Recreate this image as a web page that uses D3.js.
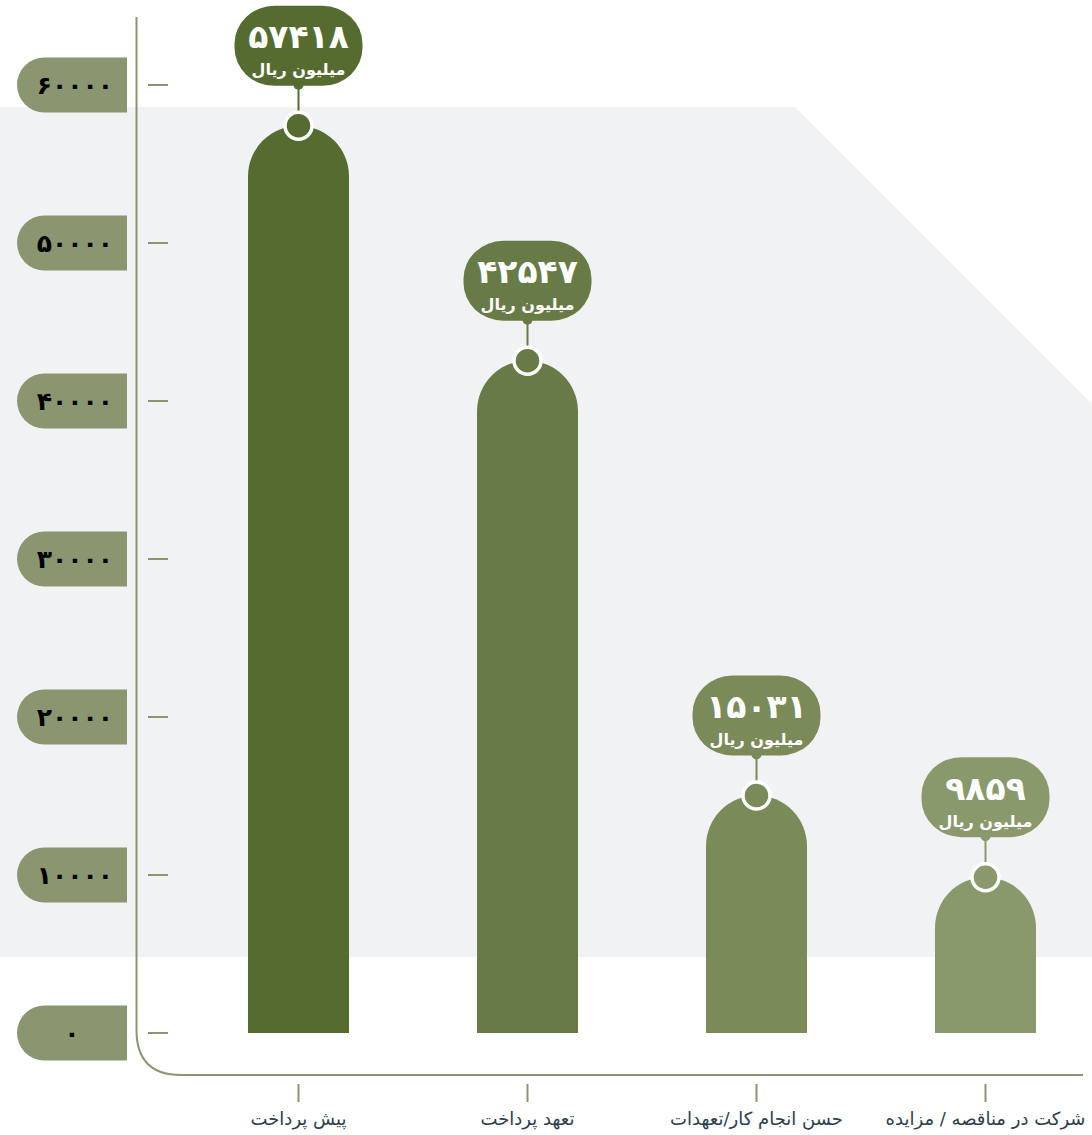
<!DOCTYPE html>
<html><head><meta charset="utf-8">
<script src="https://cdn.jsdelivr.net/npm/d3@7/dist/d3.min.js"></script>
<style>html,body{margin:0;padding:0;background:#fff}svg{display:block}</style>
</head><body><svg id="c" width="1092" height="1135"></svg>
<script>
const categories = ["پیش پرداخت", "تعهد پرداخت", "حسن انجام کار/تعهدات", "شرکت در مناقصه / مزایده"];
const values = [57418, 42547, 15031, 9859];
const barColors = ["#566b30", "#687a46", "#7a8a58", "#8a996c"];
const yTicks = [0, 10000, 20000, 30000, 40000, 50000, 60000];
const unitLabel = "میلیون ریال";

const fa = n => String(n).replace(/\d/g, d => "۰۱۲۳۴۵۶۷۸۹"[+d]);
const svg = d3.select("#c");
const axisColor = "#8a9670";
const FONT = "'DejaVu Sans', sans-serif";

const y = d3.scaleLinear().domain([0, 60000]).range([1033, 85]);
const x = d3.scaleBand().domain(categories).range([184, 1100]).padding(0);
const cx = c => x(c) + x.bandwidth() / 2;

// background panel
svg.append("path").attr("fill", "#f1f2f4")
  .attr("d", "M0,107 L795,107 L1092,404 L1092,957 L0,957 Z");

// y axis line with rounded corner
svg.append("path").attr("fill", "none").attr("stroke", axisColor).attr("stroke-width", 2)
  .attr("d", "M136.5,17 L136.5,1030 Q136.5,1075 181,1075 L1083,1075");

// y tick pills, ticks, labels
const yt = svg.append("g").selectAll("g").data(yTicks).join("g")
  .attr("transform", d => `translate(0,${y(d)})`);
yt.append("path").attr("fill", axisColor)
  .attr("d", "M127,-27.5 L44.5,-27.5 A27.5,27.5 0 0 0 44.5,27.5 L127,27.5 Z");
yt.append("line").attr("x1", 148).attr("x2", 168).attr("stroke", axisColor).attr("stroke-width", 2);
yt.append("text").attr("x", d => d === 0 ? 72 : 113).attr("y", 0).attr("dy", "0.35em")
  .attr("text-anchor", d => d === 0 ? "middle" : "end")
  .attr("font-family", FONT).attr("font-weight", "bold").attr("font-size", 25).attr("fill", "#000")
  .attr("direction", "ltr")
  .text(d => fa(d));

// bars
const bw = 101, r = 50.5;
const bars = svg.append("g").selectAll("g").data(values).join("g");
bars.append("path").attr("fill", (d, i) => barColors[i])
  .attr("d", (d, i) => {
    const c = cx(categories[i]), x0 = c - bw / 2, x1 = c + bw / 2, yt = y(d), yb = y(0);
    return `M${x0},${yb} L${x0},${yt + r} A${bw/2},${r} 0 0 1 ${x1},${yt + r} L${x1},${yb} Z`;
  });
// connector line
bars.append("line").attr("x1", (d, i) => cx(categories[i])).attr("x2", (d, i) => cx(categories[i]))
  .attr("y1", d => y(d) - 40).attr("y2", d => y(d))
  .attr("stroke", (d, i) => barColors[i]).attr("stroke-width", 2);
// marker circle
bars.append("circle").attr("cx", (d, i) => cx(categories[i])).attr("cy", d => y(d)).attr("r", 13.5)
  .attr("fill", (d, i) => barColors[i]).attr("stroke", "#fff").attr("stroke-width", 3.5);
// label pill
bars.append("rect").attr("x", (d, i) => cx(categories[i]) - 64).attr("y", d => y(d) - 120)
  .attr("width", 128).attr("height", 80).attr("rx", 40).attr("ry", 38)
  .attr("fill", (d, i) => barColors[i]);
bars.append("circle").attr("cx", (d, i) => cx(categories[i])).attr("cy", d => y(d) - 41).attr("r", 5)
  .attr("fill", (d, i) => barColors[i]);
bars.append("text").attr("x", (d, i) => cx(categories[i])).attr("y", d => y(d) - 89)
  .attr("dy", "0.35em").attr("text-anchor", "middle").attr("direction", "ltr")
  .attr("font-family", FONT).attr("font-weight", "bold").attr("font-size", 33).attr("fill", "#fff")
  .text(d => fa(d));
bars.append("text").attr("x", (d, i) => cx(categories[i])).attr("y", d => y(d) - 56)
  .attr("dy", "0.35em").attr("text-anchor", "middle")
  .attr("font-family", FONT).attr("font-weight", "bold").attr("font-size", 16).attr("fill", "#fff")
  .text(unitLabel);

// x ticks and labels
const xt = svg.append("g").selectAll("g").data(categories).join("g")
  .attr("transform", d => `translate(${cx(d)},0)`);
xt.append("line").attr("y1", 1084).attr("y2", 1102).attr("stroke", axisColor).attr("stroke-width", 2);
xt.append("text").attr("y", 1119).attr("dy", "0.35em").attr("text-anchor", "middle")
  .attr("font-family", FONT).attr("font-size", 18).attr("fill", "#2c3e4c").attr("direction", "rtl")
  .text(d => d);
</script></body></html>
